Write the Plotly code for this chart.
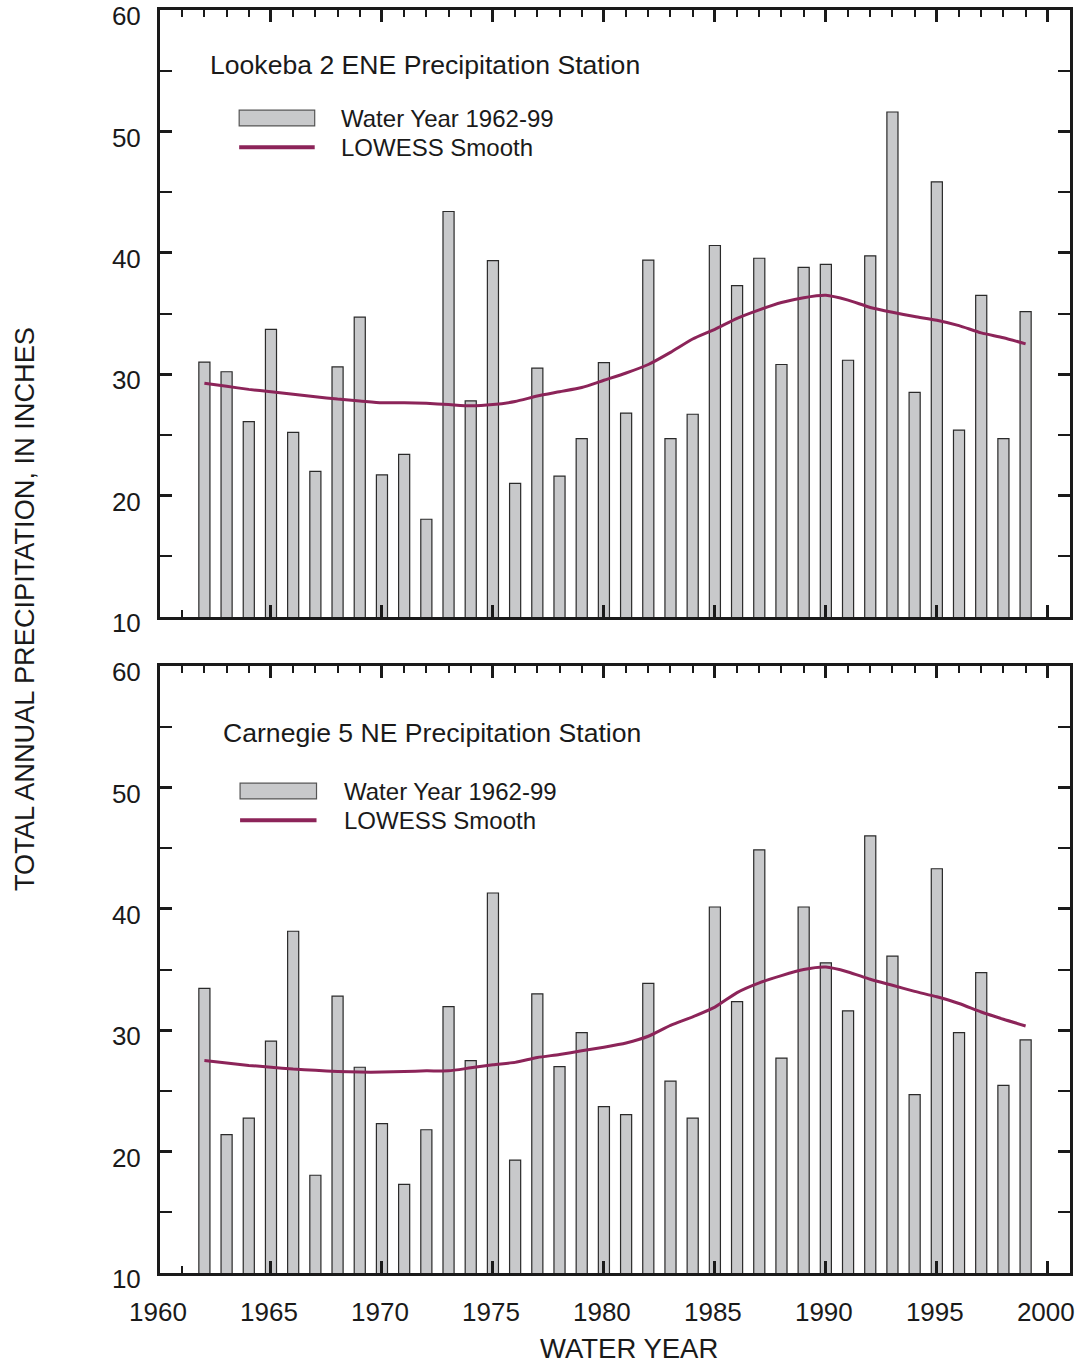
import plotly.graph_objects as go

# Water years plotted in both panels
years = list(range(1962, 2000))

# Total annual precipitation, inches
lookeba_precip = [31.0, 30.2, 26.1, 33.7, 25.2, 22.0, 30.6, 34.7, 21.7, 23.4,
                  18.05, 43.4, 27.8, 39.35, 21.0, 30.5, 21.6, 24.7, 30.95, 26.8,
                  39.4, 24.7, 26.7, 40.6, 37.3, 39.55, 30.8, 38.8, 39.05, 31.15,
                  39.75, 51.6, 28.5, 45.85, 25.4, 36.5, 24.7, 35.15]
lookeba_lowess = [29.25, 29.0, 28.75, 28.55, 28.35, 28.15, 27.95, 27.8, 27.65, 27.65,
                  27.6, 27.5, 27.4, 27.5, 27.75, 28.2, 28.55, 28.9, 29.5, 30.1,
                  30.8, 31.8, 32.9, 33.7, 34.6, 35.3, 35.9, 36.3, 36.5, 36.1,
                  35.5, 35.1, 34.75, 34.45, 34.0, 33.4, 33.0, 32.5]

carnegie_precip = [33.45, 21.4, 22.75, 29.1, 38.15, 18.05, 32.8, 26.95, 22.3, 17.3,
                   21.8, 31.95, 27.5, 41.3, 19.3, 33.0, 27.0, 29.8, 23.7, 23.05,
                   33.85, 25.8, 22.75, 40.15, 32.35, 44.85, 27.7, 40.15, 35.55, 31.6,
                   46.0, 36.1, 24.7, 43.3, 29.8, 34.75, 25.45, 29.2]
carnegie_lowess = [27.5, 27.3, 27.1, 26.95, 26.8, 26.7, 26.6, 26.55, 26.55, 26.6,
                   26.65, 26.65, 26.9, 27.15, 27.35, 27.75, 28.0, 28.3, 28.6, 28.95,
                   29.5, 30.4, 31.1, 31.9, 33.1, 33.9, 34.5, 35.0, 35.2, 34.8,
                   34.2, 33.7, 33.2, 32.75, 32.2, 31.5, 30.9, 30.35]

station_titles = ["Lookeba 2 ENE Precipitation Station",
                  "Carnegie 5 NE Precipitation Station"]
legend_labels = ["Water Year 1962-99", "LOWESS Smooth"]

x_tick_vals = list(range(1960, 2001, 5))
x_tick_text = [str(v) for v in x_tick_vals]
y_tick_vals = list(range(10, 61, 10))

FONT = "Liberation Sans, Arial, Helvetica, sans-serif"
INK = "#1a1a1a"
BAR_FILL = "#c8c9cb"
BAR_EDGE = "#2a2a2a"
SMOOTH = "#8c2459"

fig = go.Figure()

panels = [
    dict(vals=lookeba_precip, smooth=lookeba_lowess, x="x", y="y", xtop="x3"),
    dict(vals=carnegie_precip, smooth=carnegie_lowess, x="x2", y="y2", xtop="x4"),
]

for p in panels:
    fig.add_trace(go.Bar(
        x=years, y=p["vals"], width=0.5,
        marker=dict(color=BAR_FILL, line=dict(color=BAR_EDGE, width=1.2)),
        xaxis=p["x"], yaxis=p["y"], showlegend=False, hoverinfo="x+y",
    ))
    fig.add_trace(go.Scatter(
        x=years, y=p["smooth"], mode="lines",
        line=dict(color=SMOOTH, width=3, shape="spline", smoothing=0.6),
        xaxis=p["xtop"], yaxis=p["y"], showlegend=False, hoverinfo="x+y",
    ))

x_range = [1960, 2001]

def bottom_xaxis(domain_anchor, show_labels):
    return dict(
        range=x_range, anchor=domain_anchor, domain=[0, 1], automargin=False,
        showline=True, linewidth=3, linecolor=INK, mirror=True,
        ticks="inside", ticklen=12, tickwidth=2.5, tickcolor=INK,
        tickmode="array", tickvals=x_tick_vals, ticktext=x_tick_text,
        showticklabels=show_labels, ticklabelstandoff=14, ticklabelshift=-2,
        tickfont=dict(family=FONT, size=26, color=INK),
        minor=dict(tickmode="array", tickvals=[1961], ticks="inside",
                   ticklen=7, tickwidth=1.5, tickcolor=INK),
        showgrid=False, zeroline=False, fixedrange=True,
    )

def top_xaxis(overlay, domain_anchor):
    return dict(
        range=x_range, overlaying=overlay, anchor=domain_anchor, side="top",
        automargin=False,
        showline=False, ticks="inside", ticklen=12, tickwidth=2.5, tickcolor=INK,
        tickmode="array", tickvals=x_tick_vals, showticklabels=False,
        minor=dict(tickmode="linear", tick0=1960, dtick=1, ticks="inside",
                   ticklen=7, tickwidth=1.5, tickcolor=INK),
        showgrid=False, zeroline=False, fixedrange=True,
    )

def yaxis(domain, anchor):
    return dict(
        range=[10, 60], domain=domain, anchor=anchor, automargin=False,
        showline=True, linewidth=3, linecolor=INK, mirror="allticks",
        ticks="inside", ticklen=12, tickwidth=2.5, tickcolor=INK,
        tickmode="array", tickvals=y_tick_vals,
        ticklabelstandoff=11, ticklabelshift=6,
        tickfont=dict(family=FONT, size=26, color=INK),
        minor=dict(tickmode="linear", tick0=5, dtick=5, ticks="inside",
                   ticklen=7, tickwidth=1.5, tickcolor=INK),
        showgrid=False, zeroline=False, fixedrange=True,
    )

top_dom = [656 / 1263, 1.0]
bot_dom = [0.0, 607 / 1263]

fig.update_layout(
    width=1078, height=1363,
    margin=dict(l=160, r=8, t=10, b=90, autoexpand=False),
    paper_bgcolor="white", plot_bgcolor="white",
    font=dict(family=FONT, color=INK),
    bargap=0.5,
    xaxis=bottom_xaxis("y", False),
    yaxis=yaxis(top_dom, "x"),
    xaxis2=bottom_xaxis("y2", True),
    yaxis2=yaxis(bot_dom, "x2"),
    xaxis3=top_xaxis("x", "y"),
    xaxis4=top_xaxis("x2", "y2"),
)

# Station title and hand-built legend for each panel (positions in axis-domain units)
panel_text = [
    dict(xref="x domain", yref="y domain", title=station_titles[0],
         tx=0.053, ty=0.909, rx=(0.087, 0.170), ry=(0.809, 0.835), ly=0.774, lx=0.197),
    dict(xref="x2 domain", yref="y2 domain", title=station_titles[1],
         tx=0.067, ty=0.890, rx=(0.088, 0.172), ry=(0.781, 0.807), ly=0.746, lx=0.200),
]

for t in panel_text:
    fig.add_annotation(x=t["tx"], y=t["ty"], xref=t["xref"], yref=t["yref"],
                       text=t["title"], showarrow=False, xanchor="left", yanchor="middle",
                       font=dict(family=FONT, size=26.6, color=INK))
    fig.add_shape(type="rect", xref=t["xref"], yref=t["yref"],
                  x0=t["rx"][0], x1=t["rx"][1], y0=t["ry"][0], y1=t["ry"][1],
                  fillcolor=BAR_FILL, line=dict(color="#555555", width=1.2))
    fig.add_shape(type="line", xref=t["xref"], yref=t["yref"],
                  x0=t["rx"][0], x1=t["rx"][1], y0=t["ly"], y1=t["ly"],
                  line=dict(color=SMOOTH, width=4))
    fig.add_annotation(x=t["lx"], y=(t["ry"][0] + t["ry"][1]) / 2,
                       xref=t["xref"], yref=t["yref"], text=legend_labels[0],
                       showarrow=False, xanchor="left", yanchor="middle",
                       font=dict(family=FONT, size=24, color=INK))
    fig.add_annotation(x=t["lx"], y=t["ly"], xref=t["xref"], yref=t["yref"],
                       text=legend_labels[1], showarrow=False,
                       xanchor="left", yanchor="middle",
                       font=dict(family=FONT, size=24, color=INK))

# Shared axis titles
fig.add_annotation(x=-0.1495, y=0.5257, xref="paper", yref="paper",
                   text="TOTAL ANNUAL PRECIPITATION, IN INCHES", textangle=-90,
                   showarrow=False, xanchor="center", yanchor="middle",
                   font=dict(family=FONT, size=27.2, color=INK))
fig.add_annotation(x=0.5154, y=-0.0594, xref="paper", yref="paper",
                   text="WATER YEAR", showarrow=False,
                   xanchor="center", yanchor="middle",
                   font=dict(family=FONT, size=27.5, color=INK))

fig.write_html("out.html")
